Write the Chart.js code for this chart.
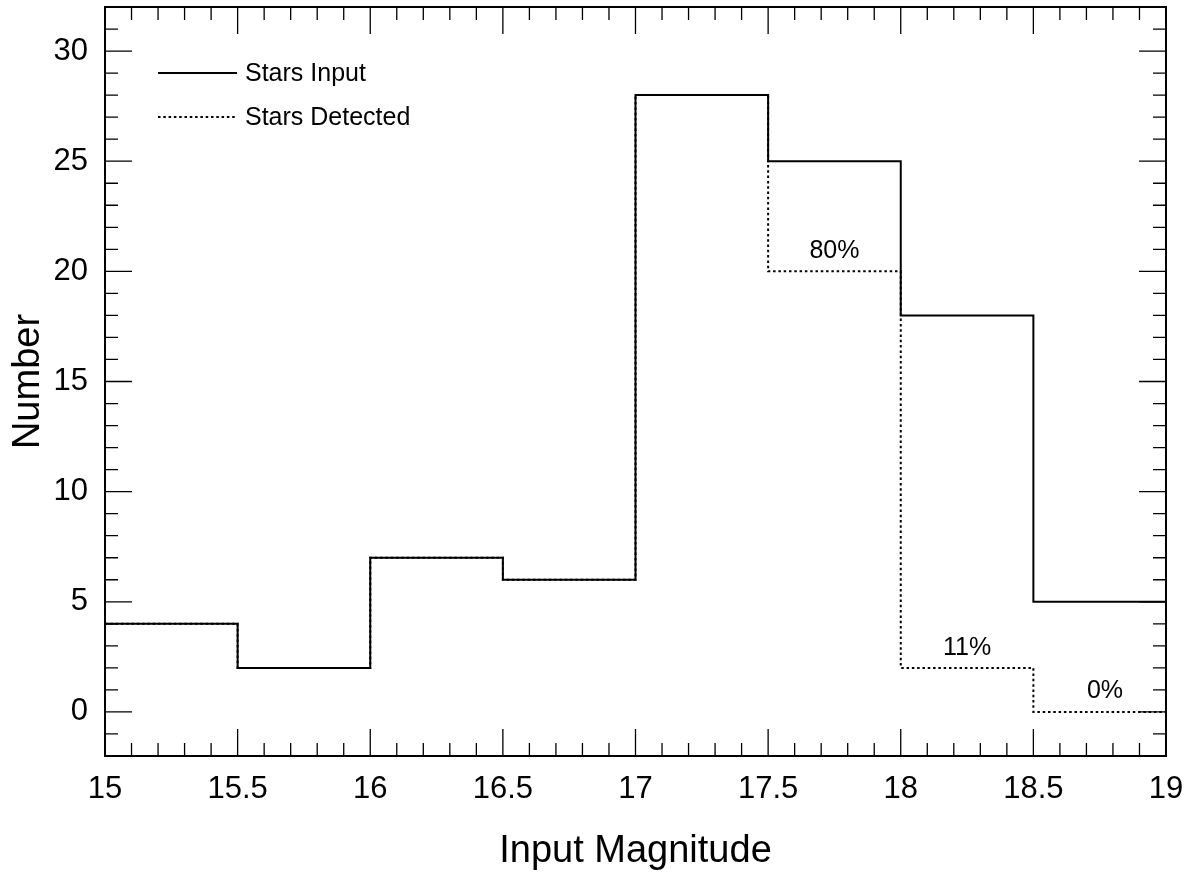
<!DOCTYPE html>
<html>
<head>
<meta charset="utf-8">
<script src="https://cdn.jsdelivr.net/npm/chart.js@4.4.0/dist/chart.umd.min.js"></script>
<style>
  html, body { margin: 0; padding: 0; background: #ffffff; }
  #wrap { width: 1198px; height: 879px; }
</style>
</head>
<body>
<div id="wrap"><canvas id="chart" width="1198" height="879"></canvas></div>
<script>
// Histogram bins (input magnitude edges) and counts
const binEdges = [15, 15.5, 16, 16.5, 17, 17.5, 18, 18.5, 19];
const starsInput = [4, 2, 7, 6, 28, 25, 18, 5];
const starsDetected = [4, 2, 7, 6, 28, 20, 2, 0];

// Completeness labels
const pctText = ["80%", "11%", "0%"];
const pctX = [17.75, 18.25, 18.77];
const pctY = [20.9, 2.9, 0.95];

// Axis ticks
const xTicks = [15, 15.5, 16, 16.5, 17, 17.5, 18, 18.5, 19];
const yTicks = [0, 5, 10, 15, 20, 25, 30];
const xMinor = [];
for (let i = 150; i <= 190; i++) if (i % 5 !== 0) xMinor.push(i / 10);
const yMinor = [];
for (let v = -1; v <= 31; v++) if (v % 5 !== 0) yMinor.push(v);

const FONT = "'Liberation Sans', Arial, Helvetica, sans-serif";
Chart.defaults.font.family = FONT;
Chart.defaults.color = "#000";

// step points: each bin edge carries the bin value, last edge repeats it
function toSteps(values) {
  const pts = values.map((v, i) => ({ x: binEdges[i], y: v }));
  pts.push({ x: binEdges[binEdges.length - 1], y: values[values.length - 1] });
  return pts;
}

const framePlugin = {
  id: "frame",
  afterDatasetsDraw(chart) {
    const { ctx, chartArea: a, scales: { x, y } } = chart;
    ctx.save();
    ctx.strokeStyle = "#000";

    // ticks on all four sides, pointing inward
    ctx.lineWidth = 1.3;
    ctx.beginPath();
    const xTick = (v, len) => {
      const px = x.getPixelForValue(v);
      ctx.moveTo(px, a.bottom); ctx.lineTo(px, a.bottom - len);
      ctx.moveTo(px, a.top); ctx.lineTo(px, a.top + len);
    };
    const yTick = (v, len) => {
      const py = y.getPixelForValue(v);
      ctx.moveTo(a.left, py); ctx.lineTo(a.left + len, py);
      ctx.moveTo(a.right, py); ctx.lineTo(a.right - len, py);
    };
    xMinor.forEach(v => xTick(v, 13));
    xTicks.forEach(v => xTick(v, 27));
    yMinor.forEach(v => yTick(v, 13));
    yTicks.forEach(v => yTick(v, 27));
    ctx.stroke();

    // frame
    ctx.lineWidth = 2;
    ctx.strokeRect(a.left, a.top, a.right - a.left, a.bottom - a.top);

    // legend
    ctx.font = "25px " + FONT;
    ctx.textBaseline = "middle";
    ctx.textAlign = "left";
    const legendY = [73, 117];
    chart.data.datasets.forEach((ds, i) => {
      ctx.lineWidth = ds.borderWidth;
      ctx.setLineDash(ds.borderDash || []);
      ctx.beginPath();
      ctx.moveTo(158, legendY[i]);
      ctx.lineTo(237, legendY[i]);
      ctx.stroke();
      ctx.setLineDash([]);
      ctx.fillStyle = "#000";
      ctx.fillText(ds.label, 245, legendY[i] + 1);
    });

    // completeness percentages
    ctx.textAlign = "center";
    pctText.forEach((t, i) => {
      ctx.fillText(t, x.getPixelForValue(pctX[i]), y.getPixelForValue(pctY[i]));
    });
    ctx.restore();
  }
};

new Chart(document.getElementById("chart").getContext("2d"), {
  type: "line",
  data: {
    datasets: [
      {
        label: "Stars Input",
        data: toSteps(starsInput),
        stepped: "before",
        borderColor: "#000",
        borderWidth: 2,
        pointRadius: 0,
        fill: false
      },
      {
        label: "Stars Detected",
        data: toSteps(starsDetected),
        stepped: "before",
        borderColor: "#000",
        borderWidth: 2,
        borderDash: [2.5, 2.8],
        pointRadius: 0,
        fill: false
      }
    ]
  },
  options: {
    responsive: false,
    animation: false,
    layout: { padding: { top: 7, right: 32, left: 0, bottom: 0 } },
    plugins: {
      legend: { display: false },
      tooltip: { enabled: false }
    },
    scales: {
      x: {
        type: "linear",
        min: 15,
        max: 19,
        afterBuildTicks: (s) => { s.ticks = xTicks.map(v => ({ value: v })); },
        afterFit: (s) => { s.height = 123; s.paddingLeft = 0; s.paddingRight = 0; },
        grid: { display: false, drawTicks: false },
        border: { display: false },
        ticks: {
          font: { size: 31 }, padding: 15, maxRotation: 0, autoSkip: false,
          callback: (v) => String(v)
        },
        title: {
          display: true,
          text: "Input Magnitude",
          font: { size: 38 },
          padding: { top: 0, bottom: 5 }
        }
      },
      y: {
        type: "linear",
        min: -2,
        max: 32,
        afterBuildTicks: (s) => { s.ticks = yTicks.map(v => ({ value: v })); },
        afterFit: (s) => { s.width = 105; s.paddingTop = 0; s.paddingBottom = 0; },
        grid: { display: false, drawTicks: false },
        border: { display: false },
        ticks: {
          font: { size: 31 }, padding: 17, autoSkip: false,
          callback: (v) => String(v)
        },
        title: {
          display: true,
          text: "Number",
          font: { size: 38 },
          padding: { top: 6, bottom: 0 }
        }
      }
    }
  },
  plugins: [framePlugin]
});
</script>
</body>
</html>
